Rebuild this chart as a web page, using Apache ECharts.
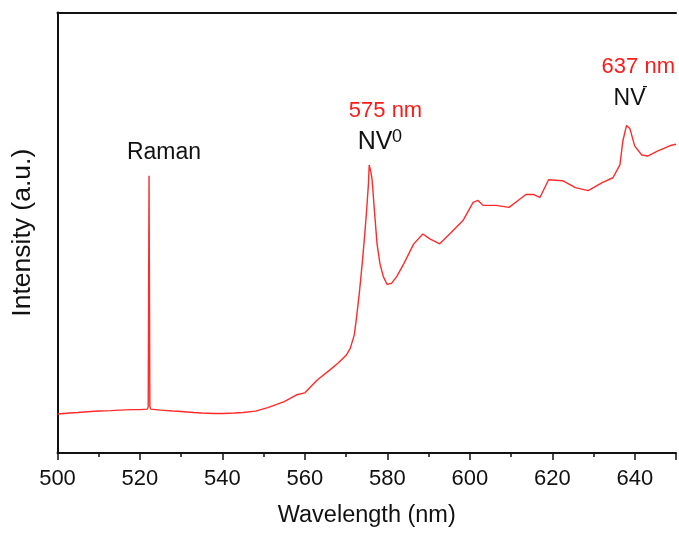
<!DOCTYPE html>
<html>
<head>
<meta charset="utf-8">
<script src="https://cdn.jsdelivr.net/npm/echarts@6/dist/echarts.min.js"></script>
<style>
html,body{margin:0;padding:0;background:#fff;overflow:hidden;}
#chart{width:679px;height:533px;}
</style>
</head>
<body>
<div id="chart"></div>
<script>
// Wavelength (nm) and intensity (a.u.)
const wavelength = [500, 503, 505, 508, 510, 513, 515, 518, 520, 521.8, 522.0, 522.2, 522.4, 522.6, 525, 528, 530, 533, 535, 538, 540, 543, 545, 548, 551, 553, 555, 558, 560, 563, 566, 568, 570, 571, 572, 572.6, 573.2, 573.9, 574.4, 574.9, 575.4, 575.6, 576.0, 576.3, 576.8, 577.5, 578.2, 579.0, 579.9, 581, 582.3, 584.0, 586.4, 588.6, 590.3, 592.7, 595.1, 598.4, 600.8, 602.0, 603.2, 606.4, 609.5, 611.7, 613.6, 615.5, 617, 619.1, 622.5, 625.6, 628.7, 632.1, 634.7, 636.4, 637.1, 638.0, 638.8, 640.0, 641.7, 643.1, 645.5, 648.9, 650];
const intensity  = [39.5, 40.5, 41, 42, 42.5, 43, 43.5, 44, 44, 44.5, 47, 281, 47, 44.5, 43.5, 42.5, 42, 41, 40.5, 40, 40, 40.5, 41, 42.5, 46, 49, 52, 59, 61, 74, 84, 91, 99, 106, 120, 140, 162, 192, 216, 242, 272, 292, 285, 277, 249, 212, 192, 179, 171, 172, 179, 192, 212, 222, 217, 212, 222, 236, 254, 256, 251, 251, 249, 256, 262, 262, 259, 277, 276, 269, 266, 274, 279, 292, 316, 332, 329, 311, 302, 301, 306, 312, 313];
const xTicks = [500, 520, 540, 560, 580, 600, 620, 640];

const chart = echarts.init(document.getElementById('chart'), null, {renderer: 'canvas'});
const font = '"Liberation Sans", Arial, Helvetica, sans-serif';
const data = wavelength.map((w, i) => [w, intensity[i]]);

chart.setOption({
  animation: false,
  backgroundColor: '#fff',
  grid: {left: 57.5, top: 12.5, right: -2.5, bottom: 74, containLabel: false},
  xAxis: [{
    type: 'value', min: 500, max: 650, interval: 20,
    name: 'Wavelength (nm)', nameLocation: 'middle', nameGap: 51,
    nameTextStyle: {fontFamily: font, fontSize: 23.5, color: '#111'},
    axisLine: {show: true, lineStyle: {color: '#111', width: 2}},
    axisTick: {show: true, length: 7, inside: false, lineStyle: {color: '#111', width: 1.5}},
    minorTick: {show: true, splitNumber: 2, length: 4, lineStyle: {color: '#111', width: 1.5}},
    axisLabel: {fontFamily: font, fontSize: 22, color: '#111', margin: 14.5,
      formatter: v => xTicks.includes(v) ? String(v) : ''},
    splitLine: {show: false}
  }, {
    type: 'value', min: 500, max: 650, position: 'top',
    axisLine: {show: true, lineStyle: {color: '#111', width: 2}},
    axisTick: {show: false}, axisLabel: {show: false}, splitLine: {show: false}
  }],
  yAxis: {
    type: 'value', min: 0, max: 446.5,
    name: 'Intensity (a.u.)', nameLocation: 'middle', nameGap: 21,
    nameTextStyle: {fontFamily: font, fontSize: 26.5, color: '#111'},
    axisLine: {show: true, lineStyle: {color: '#111', width: 2}},
    axisTick: {show: false}, axisLabel: {show: false}, splitLine: {show: false}
  },
  series: [{
    type: 'line', data: data, xAxisIndex: 0, showSymbol: false, symbol: 'none',
    lineStyle: {color: '#ff2a2a', width: 1.4}
  }],
  graphic: [
    {type: 'text', x: 164, y: 153, style: {text: 'Raman', font: '23px ' + font, fill: '#111', align: 'center', verticalAlign: 'middle'}},
    {type: 'text', x: 385.5, y: 111, style: {text: '575 nm', font: '22px ' + font, fill: '#ff1a1a', align: 'center', verticalAlign: 'middle'}},
    {type: 'text', x: 375, y: 142.5, style: {text: 'NV', font: '25px ' + font, fill: '#111', align: 'center', verticalAlign: 'middle'}},
    {type: 'text', x: 397, y: 137.5, style: {text: '0', font: '18px ' + font, fill: '#111', align: 'center', verticalAlign: 'middle'}},
    {type: 'text', x: 638.3, y: 66.7, style: {text: '637 nm', font: '22px ' + font, fill: '#ff1a1a', align: 'center', verticalAlign: 'middle'}},
    {type: 'text', x: 629.5, y: 98.5, style: {text: 'NV', font: '23px ' + font, fill: '#111', align: 'center', verticalAlign: 'middle'}},
    {type: 'text', x: 645, y: 87, style: {text: '-', font: '16px ' + font, fill: '#111', align: 'center', verticalAlign: 'middle'}}
  ]
});
</script>
</body>
</html>
